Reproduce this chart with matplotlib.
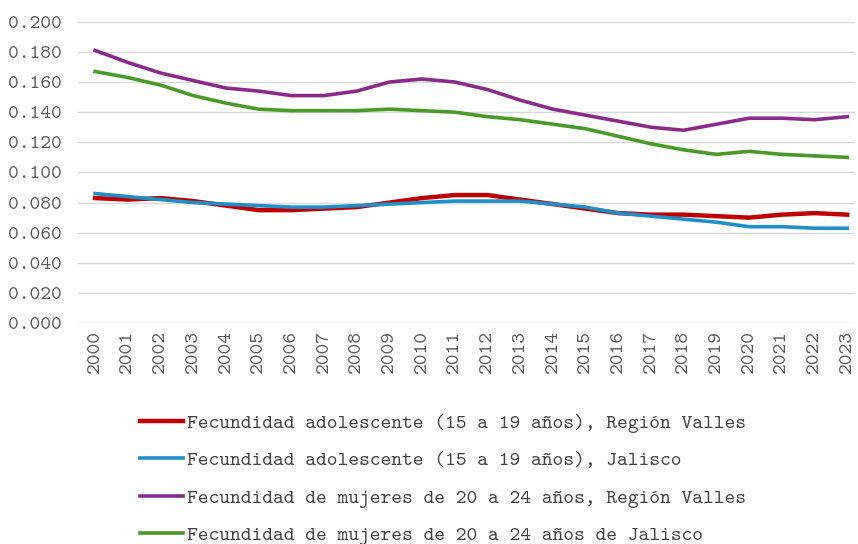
import matplotlib.pyplot as plt

years = list(range(2000, 2024))
adol_valles = [0.083, 0.082, 0.083, 0.081, 0.078, 0.075, 0.075, 0.076, 0.077, 0.080,
               0.083, 0.085, 0.085, 0.082, 0.079, 0.076, 0.073, 0.072, 0.072, 0.071,
               0.070, 0.072, 0.073, 0.072]
adol_jalisco = [0.086, 0.084, 0.082, 0.080, 0.079, 0.078, 0.077, 0.077, 0.078, 0.079,
                0.080, 0.081, 0.081, 0.081, 0.079, 0.077, 0.073, 0.071, 0.069, 0.067,
                0.064, 0.064, 0.063, 0.063]
mujeres_valles = [0.181, 0.173, 0.166, 0.161, 0.156, 0.154, 0.151, 0.151, 0.154, 0.160,
                  0.162, 0.160, 0.155, 0.148, 0.142, 0.138, 0.134, 0.130, 0.128, 0.132,
                  0.136, 0.136, 0.135, 0.137]
mujeres_jalisco = [0.167, 0.163, 0.158, 0.151, 0.146, 0.142, 0.141, 0.141, 0.141, 0.142,
                   0.141, 0.140, 0.137, 0.135, 0.132, 0.129, 0.124, 0.119, 0.115, 0.112,
                   0.114, 0.112, 0.111, 0.110]
labels = ['Fecundidad adolescente (15 a 19 años), Región Valles',
          'Fecundidad adolescente (15 a 19 años), Jalisco',
          'Fecundidad de mujeres de 20 a 24 años, Región Valles',
          'Fecundidad de mujeres de 20 a 24 años de Jalisco']

plt.rcParams['font.family'] = ['Latin Modern Mono', 'DejaVu Sans']

fig = plt.figure(figsize=(8.58, 5.44), dpi=100)
ax = fig.add_axes([0.091, 0.406, 0.906, 0.554])

ax.plot(years, adol_valles, color='#c00000', lw=3.2, label=labels[0], zorder=3)
ax.plot(years, adol_jalisco, color='#1f8fc8', lw=2.6, label=labels[1], zorder=4)
ax.plot(years, mujeres_valles, color='#8a2a8a', lw=2.6, label=labels[2], zorder=3)
ax.plot(years, mujeres_jalisco, color='#4a9a2a', lw=2.6, label=labels[3], zorder=3)

ax.set_ylim(0, 0.2)
ax.set_yticks([i * 0.02 for i in range(11)])
ax.yaxis.set_major_formatter(plt.FuncFormatter(lambda v, p: f'{v:.3f}'))
ax.set_xlim(1999.48, 2023.25)
ax.set_xticks(years)
ax.set_xticklabels([str(y) for y in years], rotation=90)
ax.grid(axis='y', color='#d9d9d9', lw=1)
ax.set_axisbelow(True)
for s in ax.spines.values():
    s.set_visible(False)
ax.tick_params(axis='y', length=0, labelsize=14.8, colors='#595959', pad=12)
ax.tick_params(axis='x', length=0, labelsize=14.8, colors='#595959', pad=5)

fig.legend(loc='upper left', bbox_to_anchor=(0.163, 0.24), frameon=False,
           fontsize=14.8, handlelength=2.1, handletextpad=0.2, labelspacing=0.88,
           labelcolor='#404040', borderaxespad=0, borderpad=0)

fig.savefig('out.png', dpi=100)
plt.close(fig)
